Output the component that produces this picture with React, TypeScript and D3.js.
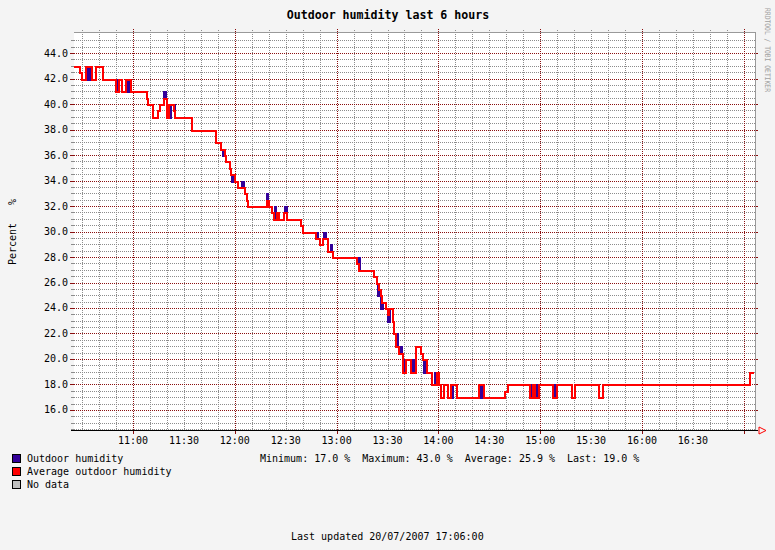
import * as d3 from "d3";

// minutes after 10:00 on 20/07/2007
const avgTimes = [25, 29, 30, 32, 36, 38, 42, 50, 52, 53.5, 56, 59, 68, 69, 72, 75, 76, 78, 80, 81, 84, 85, 95,
  109, 112, 114, 115, 117, 118, 120, 122, 126, 127, 128, 139, 140, 142, 143, 145, 146, 149, 151, 159, 160,
  168, 170, 172, 175, 178, 192, 193, 202, 204, 205, 206, 207, 209, 210, 211, 213, 214, 215, 217, 219, 221,
  224, 227, 230, 231, 233, 236, 239, 240.5, 241.5, 243.5, 245.5, 247.5, 251, 264, 266.7, 279, 281, 294, 296,
  297, 299.5, 307.3, 310, 318.7, 320.6, 334.7, 337, 423.5, 426];
const avgValues = [43, 42.5, 42, 43, 42, 43, 42, 41, 42, 41, 42, 41, 40.5, 40, 39, 39.5, 40, 40.5, 39, 40, 39.5, 39, 38,
  37, 36.5, 36, 35.5, 35, 34.5, 34, 33.5, 33, 32.5, 32, 32.5, 32, 31.5, 31, 31.5, 31, 31.5, 31, 30.5, 30,
  29.5, 29, 29.5, 28.5, 28, 27.5, 27, 26.5, 26, 25.5, 25, 24.5, 24, 23.5, 24, 23, 22, 21, 20.5, 19, 20,
  19, 21, 20.5, 20, 19, 18, 19, 18, 17, 18, 17, 18, 17, 18, 17, 17.5, 18, 17, 18,
  17, 18, 17, 18, 17, 18, 17, 18, 19, 19];

// short readings of the raw sensor that differ from the average
const spikeTimes = [33.5, 50.5, 56.5, 78.5, 81.5, 84.3, 113, 118.3, 124, 138.8, 143.5, 149.8, 168.3, 172.8, 176.5,
  193.2, 204.5, 206.3, 210, 215.3, 217.6, 219.6, 224.6, 231.3, 238, 248, 265, 294.8, 297.6, 308];
const spikeValues = [42, 42, 41, 41, 39, 40, 36, 34, 34, 33, 32, 32, 30, 30, 29,
  28, 25, 24, 23, 22, 21, 20, 20, 19, 19, 17, 17, 18, 18, 18];
const spikeLengths = [1, 0.8, 1, 0.8, 1, 0.7, 1, 0.8, 1.5, 0.8, 1, 1, 0.8, 1.2, 1,
  0.8, 1, 0.8, 1.5, 0.7, 0.8, 0.9, 1, 1, 1, 0.8, 0.8, 0.7, 0.7, 0.8];

const yTicks = [16, 18, 20, 22, 24, 26, 28, 30, 32, 34, 36, 38, 40, 42, 44];
const xLabels = ["11:00", "11:30", "12:00", "12:30", "13:00", "13:30", "14:00", "14:30", "15:00", "15:30", "16:00", "16:30"];

const statsText = "Minimum: 17.0 %  Maximum: 43.0 %  Average: 25.9 %  Last: 19.0 %";

const W = 775, H = 550;
const plotL = 74, plotR = 756, plotT = 32, plotB = 430;
const font = "'DejaVu Sans Mono', monospace";
const base = new Date(2007, 6, 20, 10, 0, 0).getTime();
const toDate = (m: number) => new Date(base + m * 60000);
const hhmm = (s: string) => {
  const [h, m] = s.split(":").map(Number);
  return toDate((h - 10) * 60 + m);
};

const redAt = (t: number) => {
  let v = avgValues[0];
  avgTimes.forEach((tt, i) => { if (tt <= t) v = avgValues[i]; });
  return v;
};

export default function App() {
  const x = d3.scaleTime().domain([toDate(25.2), toDate(427.2)]).range([plotL, plotR]);
  const y = d3.scaleLinear().domain([14.43, 45.65]).range([plotB, plotT]);

  const avgPts: [number, number][] = avgTimes.map((t, i) => [t, avgValues[i]]);
  const inSpike = (t: number) => spikeTimes.some((s, i) => t >= s && t < s + spikeLengths[i]);
  let bluePts: [number, number][] = avgPts.filter(([t]) => !inSpike(t));
  spikeTimes.forEach((s, i) => {
    bluePts.push([s, spikeValues[i]]);
    bluePts.push([s + spikeLengths[i], redAt(s + spikeLengths[i])]);
  });
  bluePts = bluePts.sort((a, b) => a[0] - b[0]);

  const line = d3.line<[number, number]>()
    .x((d) => Math.round(x(toDate(d[0]))))
    .y((d) => Math.round(y(d[1])) + 0.5)
    .curve(d3.curveStepAfter);

  const dom = x.domain();
  const minorX = d3.timeMinute.every(10)!.range(dom[0], dom[1]).filter((d) => d.getMinutes() !== 0);
  const majorX = d3.timeHour.every(1)!.range(dom[0], dom[1]);
  const minorY = d3.range(14.5, 45.01, 0.5).filter((v) => yTicks.indexOf(v) < 0);

  const grey = "#8c8c8c";
  const dred = "#8a1010";
  const py = (v: number) => Math.round(y(v)) + 0.5;
  const px = (d: Date) => Math.round(x(d)) + 0.5;

  return (
    <div style={{ position: "absolute", left: 0, top: 0 }}>
      <svg width={W} height={H} style={{ display: "block" }}>
        <rect width={W} height={H} fill="#f4f4f4" />
        <rect x={plotL} y={plotT} width={plotR - plotL} height={plotB - plotT} fill="#ffffff" />
        <g shapeRendering="crispEdges">
          {minorY.map((v) => (
            <g key={"my" + v}>
              <line x1={plotL} x2={plotR} y1={py(v)} y2={py(v)} stroke={grey} strokeDasharray="1,1" />
              <line x1={plotL - 3} x2={plotL} y1={py(v)} y2={py(v)} stroke={grey} />
            </g>
          ))}
          {minorX.map((d, i) => (
            <line key={"mx" + i} x1={px(d)} x2={px(d)} y1={plotT - 2} y2={plotB + 2}
              stroke={grey} strokeDasharray="1,1" />
          ))}
          {yTicks.map((v) => (
            <g key={"y" + v}>
              <line x1={plotL} x2={plotR} y1={py(v)} y2={py(v)} stroke={dred} strokeDasharray="1,1" />
              <line x1={plotL - 4} x2={plotL} y1={py(v)} y2={py(v)} stroke={dred} />
              <line x1={plotR - 1} x2={plotR + 2} y1={py(v)} y2={py(v)} stroke={dred} />
            </g>
          ))}
          {majorX.map((d, i) => (
            <g key={"Mx" + i}>
              <line x1={px(d)} x2={px(d)} y1={plotT - 3} y2={plotB} stroke={dred} strokeDasharray="1,1" />
              <line x1={px(d)} x2={px(d)} y1={plotB} y2={plotB + 4} stroke={dred} />
            </g>
          ))}
          <line x1={plotL} x2={plotR} y1={plotT + 0.5} y2={plotT + 0.5} stroke="#999999" />
          <line x1={plotR - 0.5} x2={plotR - 0.5} y1={plotT} y2={plotB} stroke="#999999" />
          <path d={line(bluePts) || ""} fill="none" stroke="#330099" strokeWidth={2} />
          <path d={line(avgPts) || ""} fill="none" stroke="#ff0000" strokeWidth={2} />
          <line x1={plotL - 3} x2={plotR + 2} y1={plotB + 0.5} y2={plotB + 0.5} stroke="#000000" />
        </g>
        <path d={`M${plotR + 3},${plotB - 3} L${plotR + 10},${plotB + 0.5} L${plotR + 3},${plotB + 4} Z`}
          fill="none" stroke="#ff0000" strokeWidth={1} />

        <g fontFamily={font} fontSize={10} fill="#000000">
          {yTicks.map((v) => (
            <text key={"t" + v} x={plotL - 6} y={y(v) + 3.5} textAnchor="end">{v.toFixed(1)}</text>
          ))}
          {xLabels.map((s) => (
            <text key={s} x={x(hhmm(s))} y={444} textAnchor="middle">{s}</text>
          ))}
          <text x={16} y={232} textAnchor="middle" transform="rotate(-90 16 232)" xmlSpace="preserve">
            {"Percent   %"}
          </text>

          <rect x={12.5} y={454.5} width={8} height={8} fill="#330099" stroke="#000" />
          <text x={27} y={462}>Outdoor humidity</text>
          <rect x={12.5} y={467.5} width={8} height={8} fill="#ff0000" stroke="#000" />
          <text x={27} y={475}>Average outdoor humidity</text>
          <rect x={12.5} y={480.5} width={8} height={8} fill="#c0c0c0" stroke="#000" />
          <text x={27} y={488}>No data</text>

          <text x={260} y={462} xmlSpace="preserve">{statsText}</text>
          <text x={291} y={540}>Last updated 20/07/2007 17:06:00</text>
        </g>
        <text x={388} y={19} textAnchor="middle" fontFamily={font} fontWeight="bold" fontSize={11.6}>
          Outdoor humidity last 6 hours
        </text>
        <text x={765} y={50} textAnchor="middle" transform="rotate(90 765 50)" fontFamily={font} fontSize={7.5}
          fill="#a0a0a0" textLength={84} lengthAdjust="spacingAndGlyphs">
          RRDTOOL / TOBI OETIKER
        </text>
      </svg>
    </div>
  );
}
